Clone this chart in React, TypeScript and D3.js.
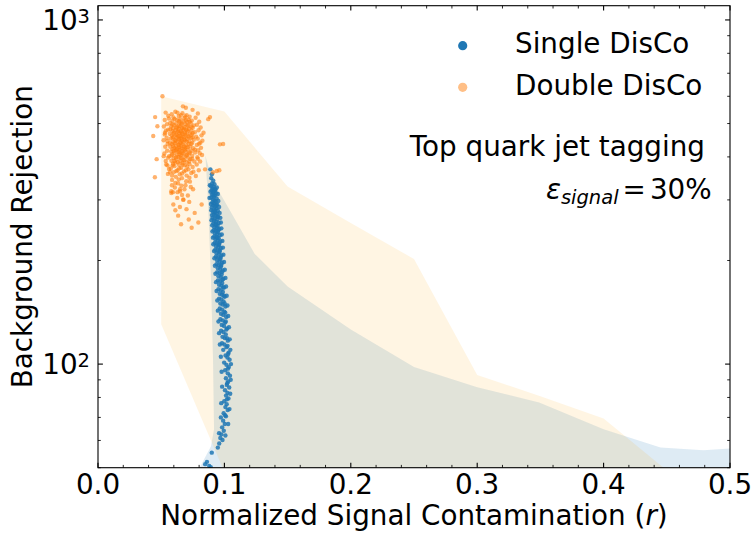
import React from 'react';
import * as d3 from 'd3';

const W = 753;
const H = 533;
const PLOT = { left: 98, right: 730, top: 5.7, bottom: 467.7 };
const FONT = 'DejaVu Sans, sans-serif';
const FS = 27.8;

const X_DOMAIN: [number, number] = [0, 0.5];
const Y_DOMAIN: [number, number] = [50, 1100];
const xMajorTicks = [0, 0.1, 0.2, 0.3, 0.4, 0.5];
const yMajorTicks = [100, 1000];
const yMajorExponents = ['2', '3'];

const seriesNames = ['Single DisCo', 'Double DisCo'];
const annotationLines = ['Top quark jet tagging'];
const signalEfficiency = '30%';

// band of Single DisCo: upper edge (r, R) then left edge bottom->top
const singleBandUpper: [number, number][] = [
  [0.085, 403], [0.09, 345], [0.107, 269], [0.124, 209], [0.15, 168], [0.2, 126],
  [0.25, 98], [0.3, 85.6], [0.349, 77.4], [0.4, 64.7], [0.445, 57.2], [0.479, 56.2], [0.5, 56.9],
  [0.52, 57], [0.52, 40],
];
const singleBandLeft: [number, number][] = [
  [0.078, 40], [0.0807, 50.2], [0.0894, 57.7], [0.0918, 64.7], [0.091, 103], [0.0894, 176], [0.087, 301],
];
const doubleBandUpper: [number, number][] = [
  [0.05, 600], [0.1, 542], [0.15, 328], [0.2, 257], [0.25, 202], [0.3, 93], [0.35, 80.6], [0.4, 69.5], [0.45, 49.1],
];
const doubleBandLower: [number, number][] = [
  [0.45, 40], [0.15, 40], [0.1, 48.6], [0.05, 130.6],
];

const singleDisco: [number, number][] = [
  [0.0889,368],[0.0901,356],[0.0896,347],[0.0912,341],[0.0903,335],[0.0921,333],
  [0.0894,329],[0.0915,327],[0.0907,324],[0.0929,322],[0.0899,320],[0.0918,318],[0.0911,316],[0.0934,314],[0.0902,311],[0.0925,309],[0.0916,307],[0.0897,305],[0.0938,303],[0.0909,301],[0.0922,299],[0.0931,297],[0.0905,295],[0.0917,293],[0.0943,291],[0.0912,289],[0.0928,287],[0.09,285],[0.0936,283],[0.092,281],[0.0948,279],[0.091,277],[0.0926,276],[0.0939,274],[0.0915,272],[0.0931,270],
  [0.0952,268],[0.0906,266],[0.0923,265],[0.0944,263],[0.0918,261],[0.0935,259],[0.0956,257],[0.0912,256],[0.0929,254],[0.0947,252],[0.0921,250],[0.0939,249],[0.096,247],[0.0916,245],[0.0933,244],[0.0951,242],[0.0925,240],[0.0943,239],[0.0964,237],[0.092,235],[0.0937,234],[0.0955,232],[0.0929,230],[0.0947,229],[0.0968,227],[0.0924,225],[0.0941,224],[0.0959,222],[0.0934,220],[0.0952,219],[0.0972,217],[0.0928,215],
  [0.0946,214],[0.0963,212],[0.0938,210],[0.0956,209],[0.0977,207],[0.0933,205],[0.0951,204],[0.0968,202],[0.0943,200],[0.0961,199],[0.0982,197],[0.0938,195],[0.0956,194],[0.0973,192],[0.0948,190],[0.0966,189],[0.0987,187],[0.0943,185],[0.0961,184],[0.0978,182],[0.0953,180],[0.0971,179],[0.0992,177],[0.0948,175],[0.0966,174],[0.0983,172],[0.0958,170],[0.0976,169],[0.0997,167],[0.0953,165],[0.0971,164],[0.0988,162],[0.0963,160],[0.0981,159],[0.1002,157],[0.0958,155],
  [0.0976,154],[0.0993,152],[0.0968,150],[0.0986,149],[0.1008,147],[0.0963,145],[0.0981,144],[0.0999,142],[0.0973,140],[0.0991,139],[0.1014,137],[0.0968,135],[0.0987,134],[0.1005,132],[0.0979,130],[0.0997,129],[0.1021,127],[0.0974,125],[0.0993,124],[0.1011,122],[0.0985,120],[0.1003,119],[0.1027,117],[0.0981,115],[0.1,114],[0.1017,112],[0.0991,110],
  [0.1033,108],[0.1009,106],[0.1024,104.5],[0.1041,103],[0.0998,101],[0.1016,99.5],[0.1035,98],[0.1006,96],[0.1027,94],[0.1044,92.5],[0.1012,91],[0.103,89],[0.1019,87],[0.1038,85.5],[0.1005,84],[0.1024,82.5],[0.1013,81],
  [0.1032,79.5],[0.0999,78],[0.1018,76.5],[0.1008,75],[0.1026,73.5],[0.0994,72],[0.1012,70.5],[0.099,68.5],[0.1003,67],[0.0982,65.5],[0.0995,64],[0.0976,62.5],[0.0968,61],[0.0985,60.2],[0.0959,58.8],[0.0948,57.2],
  [0.09,55.3],[0.0862,52],[0.0848,51.2],[0.088,50.6],[0.0892,50.2],
  [0.0885,331],[0.094,326],[0.089,317],[0.0948,312],[0.0882,304],[0.0952,298],[0.0893,292],[0.0958,286],[0.0896,280],[0.0962,275],[0.0901,271],
  [0.0968,266],[0.0898,262],[0.0972,258],[0.0903,253],[0.0976,248],[0.0905,243],[0.0979,238],[0.0909,233],[0.0984,228],[0.0912,223],[0.0988,218],
  [0.0918,213],[0.0992,208],[0.0921,203],[0.0997,198],[0.0925,193],[0.1003,188],[0.0929,183],[0.1008,178],[0.0934,173],[0.1013,168],[0.0938,163],[0.1018,158],
  [0.0944,153],[0.1024,148],[0.0948,143],[0.103,138],[0.0953,133],[0.1036,128],[0.0958,123],[0.1042,118],[0.0964,114],[0.1047,110],
  [0.0972,105],[0.1052,100],[0.0978,95],[0.105,90],[0.0982,86],[0.1046,82],
  [0.0975,77],[0.104,74],[0.0972,70],[0.103,67],[0.0958,63],[0.1008,62],
  [0.0925,320],[0.0913,310],[0.0935,290],[0.0924,278],[0.0945,268],[0.0937,255],[0.095,245],[0.0945,233],[0.0958,224],[0.0962,214],[0.097,204],[0.0975,194],[0.098,185],[0.0985,176],[0.099,167],[0.0996,158],[0.1002,150],[0.1007,141],[0.1011,133],[0.1016,126],[0.102,119],[0.1025,113],[0.103,107],[0.1028,97],[0.1022,88],[0.102,79],[0.1006,71],
];

const doubleDisco: [number, number][] = [
  [0.0612,541],[0.0668,536],[0.0583,532],[0.0701,529],[0.0639,526],[0.0725,523],[0.0597,521],[0.0684,519],
  [0.0561,517],[0.0653,515],[0.0716,514],[0.0624,512],[0.0742,510],[0.0589,509],[0.0677,507],[0.0705,505],[0.0646,504],[0.0571,502],[0.0733,501],[0.0618,500],
  [0.0692,498],[0.0659,497],[0.0601,495],[0.0758,494],[0.0637,493],[0.0714,491],[0.0578,490],[0.0682,489],[0.0626,488],[0.0749,486],[0.0665,485],[0.0593,484],[0.0721,483],[0.0641,482],[0.0697,481],[0.0555,480],
  [0.0673,479],[0.0614,478],[0.0738,477],[0.0588,476],[0.0656,475],[0.0709,474],[0.0629,473],[0.0766,472],[0.0601,471],[0.0687,470],[0.0645,469],[0.0726,468],[0.0568,467],[0.0662,466],[0.0619,465],[0.0741,464],[0.0694,463],[0.0583,462],[0.0652,461],[0.0711,460],
  [0.0634,459],[0.0776,458],[0.0597,457],[0.068,456],[0.0622,455],[0.0735,454],[0.0657,453],[0.0575,452],[0.0703,451],[0.0641,450],[0.0758,449],[0.061,448],[0.0689,447],[0.0664,446],[0.0549,445],[0.0722,444],[0.0628,443],[0.0596,442],[0.0675,441],[0.0746,440],
  [0.0651,439],[0.0607,438],[0.0717,437],[0.0585,436],[0.0669,435],[0.0638,434],[0.0782,433],[0.0698,432],[0.0615,431],[0.066,430],[0.0729,429],[0.0572,428],[0.0643,427],[0.0691,426],[0.0603,425],[0.0754,424],[0.0626,423],[0.0679,422],[0.059,421],[0.071,420],
  [0.0648,419],[0.0616,418],[0.0739,417],[0.0666,416],[0.0579,415],[0.0695,414],[0.0633,413],[0.0768,412],[0.0604,411],[0.0672,410],[0.072,409],[0.0644,408],[0.0587,407],[0.0706,406],[0.0655,405],[0.0623,404],[0.0745,403],[0.0563,402],[0.0684,401],[0.0636,400],
  [0.0712,398],[0.0598,397],[0.0661,396],[0.0731,394],[0.062,393],[0.0677,392],[0.0581,390],[0.065,389],[0.0762,388],[0.0702,386],[0.0611,385],[0.0668,384],[0.0593,382],[0.0724,381],[0.064,380],
  [0.0687,378],[0.0605,376],[0.0749,374],[0.0658,372],[0.0576,370],[0.0716,368],[0.063,366],[0.0681,363],[0.0599,361],[0.0738,359],[0.0647,356],[0.0701,353],[0.0616,350],
  [0.0664,347],[0.0586,343],[0.0727,339],[0.0634,335],[0.0692,331],[0.0608,326],[0.0752,322],[0.0649,318],[0.058,314],[0.0711,309],[0.0627,304],[0.0675,300],
  [0.051,600],[0.0672,561],[0.0695,556],[0.0748,548],[0.0886,522],[0.0872,515],[0.0437,460],[0.0464,394],[0.045,349],[0.047,491],[0.0452,522],[0.052,402],[0.0965,435],[0.099,436],[0.081,440],[0.0835,470],[0.094,364],[0.096,366],[0.091,361],[0.0847,368],[0.057,361],[0.0593,316],[0.0649,322],[0.058,318],[0.0741,249],[0.0794,258],[0.0675,301],[0.082,291],[0.053,470],[0.054,380],[0.079,395],[0.0805,410],[0.0612,280],[0.0765,275],
  [0.0535,538],[0.079,535],[0.0556,527],[0.0772,520],[0.0528,512],[0.0801,506],[0.0546,498],[0.0783,496],[0.0521,490],[0.0812,487],[0.0538,477],[0.0795,478],[0.0528,465],[0.0819,462],[0.0543,455],[0.0789,452],[0.0519,447],[0.0826,446],[0.0551,436],[0.08,437],[0.0532,428],[0.0815,425],[0.0547,417],[0.0792,418],[0.0525,409],[0.0823,405],[0.0555,398],[0.0786,399],[0.0536,389],[0.0808,388],[0.0549,378],[0.0781,380],[0.0562,369],[0.0797,366],[0.0553,357],[0.0774,352],
  [0.0629,538],[0.0656,529],[0.069,524],[0.0606,516],[0.0641,509],[0.0695,511],[0.0725,506],[0.0663,501],[0.0588,497],[0.0707,494],[0.0649,490],[0.0617,486],[0.0739,489],[0.0679,484],[0.0572,481],[0.0702,478],[0.0635,476],[0.0661,471],[0.075,469],[0.0599,468],[0.0686,466],[0.0626,462],[0.0718,457],[0.0667,458],[0.0591,454],[0.0645,452],[0.0747,456],[0.0683,450],[0.0615,445],[0.0702,443],[0.0655,442],[0.0569,439],[0.0738,436],[0.0637,433],[0.0682,429],[0.0594,430],[0.071,427],[0.0656,424],[0.0621,421],[0.0767,420],[0.0686,418],[0.06,416],[0.064,414],[0.0728,412],[0.0664,409],[0.0582,404],[0.0698,403],[0.0616,399],[0.0652,398],[0.0745,395],[0.0684,391],[0.0605,389],[0.0632,386],[0.0722,388],[0.0671,380],[0.0591,378],[0.0706,375],[0.0643,371],[0.062,364],[0.0695,366],[0.0755,362],[0.0665,358],[0.0586,353],[0.0723,348],[0.0638,344],[0.0698,340],[0.0612,336],[0.066,330],[0.0734,327],[0.0585,331],[0.0684,322],[0.0629,316],[0.0665,310],[0.0722,296],[0.0596,291],[0.0648,286],[0.07,282],[0.0634,270],[0.0718,263],[0.0657,255],
];

const BLUE = '#1f77b4';
const ORANGE = '#ff7f0e';

export default function App() {
  const x = d3.scaleLinear().domain(X_DOMAIN).range([PLOT.left, PLOT.right]);
  const y = d3.scaleLog().domain(Y_DOMAIN).range([PLOT.bottom, PLOT.top]);
  const line = d3.line<[number, number]>().x(d => x(d[0])).y(d => y(d[1]));

  const bluePath = line([...singleBandUpper, ...singleBandLeft]) + 'Z';
  const orangePath = line([...doubleBandUpper, ...doubleBandLower]) + 'Z';

  const xMinor = x.ticks(25).filter(t => !xMajorTicks.some(m => Math.abs(m - t) < 1e-9));
  const yMinor = y.ticks().filter(t => !yMajorTicks.includes(t) && t >= Y_DOMAIN[0] && t <= Y_DOMAIN[1]);

  const MAJ = 4.9, MIN = 2.8;

  return (
    <svg width={W} height={H} style={{ position: 'absolute', left: 0, top: 0, background: '#fff' }} fontFamily={FONT}>
      <defs>
        <clipPath id="plotclip">
          <rect x={PLOT.left} y={PLOT.top} width={PLOT.right - PLOT.left} height={PLOT.bottom - PLOT.top} />
        </clipPath>
      </defs>
      <rect x={0} y={0} width={W} height={H} fill="#fff" />
      <g clipPath="url(#plotclip)">
        <path d={bluePath} fill={BLUE} fillOpacity={0.15} />
        <path d={orangePath} fill="#ffa500" fillOpacity={0.11} />
        {singleDisco.map((d, i) => (
          <circle key={'s' + i} cx={x(d[0])} cy={y(d[1])} r={2.2} fill={BLUE} fillOpacity={0.85} />
        ))}
        {doubleDisco.map((d, i) => (
          <circle key={'d' + i} cx={x(d[0])} cy={y(d[1])} r={2.2} fill={ORANGE} fillOpacity={0.6} />
        ))}
      </g>

      <rect x={PLOT.left} y={PLOT.top} width={PLOT.right - PLOT.left} height={PLOT.bottom - PLOT.top} fill="none" stroke="#000" strokeWidth={1.1} />

      {xMajorTicks.map(t => (
        <g key={'xm' + t}>
          <line x1={x(t)} x2={x(t)} y1={PLOT.bottom} y2={PLOT.bottom - MAJ} stroke="#000" strokeWidth={1.1} />
          <line x1={x(t)} x2={x(t)} y1={PLOT.top} y2={PLOT.top + MAJ} stroke="#000" strokeWidth={1.1} />
          <text x={x(t)} y={494} fontSize={FS} textAnchor="middle">{d3.format('.1f')(t)}</text>
        </g>
      ))}
      {xMinor.map(t => (
        <g key={'xn' + t}>
          <line x1={x(t)} x2={x(t)} y1={PLOT.bottom} y2={PLOT.bottom - MIN} stroke="#000" strokeWidth={0.85} />
          <line x1={x(t)} x2={x(t)} y1={PLOT.top} y2={PLOT.top + MIN} stroke="#000" strokeWidth={0.85} />
        </g>
      ))}

      {yMajorTicks.map((t, i) => (
        <g key={'ym' + t}>
          <line x1={PLOT.left} x2={PLOT.left + MAJ} y1={y(t)} y2={y(t)} stroke="#000" strokeWidth={1.1} />
          <line x1={PLOT.right} x2={PLOT.right - MAJ} y1={y(t)} y2={y(t)} stroke="#000" strokeWidth={1.1} />
          <text x={90} y={y(t) + 10.3} fontSize={FS} textAnchor="end">
            10<tspan dy={-7.7} fontSize={19.5}>{yMajorExponents[i]}</tspan>
          </text>
        </g>
      ))}
      {yMinor.map(t => (
        <g key={'yn' + t}>
          <line x1={PLOT.left} x2={PLOT.left + MIN} y1={y(t)} y2={y(t)} stroke="#000" strokeWidth={0.85} />
          <line x1={PLOT.right} x2={PLOT.right - MIN} y1={y(t)} y2={y(t)} stroke="#000" strokeWidth={0.85} />
        </g>
      ))}

      <text x={(PLOT.left + PLOT.right) / 2} y={525} fontSize={FS} textAnchor="middle">
        Normalized Signal Contamination (<tspan fontStyle="italic">r</tspan>)
      </text>
      <text transform={`translate(31.7, ${(PLOT.top + PLOT.bottom) / 2}) rotate(-90)`} fontSize={FS} textAnchor="middle">
        Background Rejection
      </text>

      <circle cx={462.7} cy={45.7} r={4.6} fill={BLUE} />
      <text x={515} y={53.3} fontSize={FS}>{seriesNames[0]}</text>
      <circle cx={462.7} cy={87.3} r={4.6} fill={ORANGE} fillOpacity={0.5} />
      <text x={515} y={95} fontSize={FS}>{seriesNames[1]}</text>

      <text x={705} y={156} fontSize={FS} textAnchor="end">{annotationLines[0]}</text>
      <text x={711.7} y={199} fontSize={FS} textAnchor="end">
        <tspan fontStyle="italic">ε</tspan>
        <tspan fontStyle="italic" fontSize={19.5} dy={5}>signal</tspan>
        <tspan dy={-5} dx={4}>=</tspan>
        <tspan dx={4}>{signalEfficiency}</tspan>
      </text>
    </svg>
  );
}
